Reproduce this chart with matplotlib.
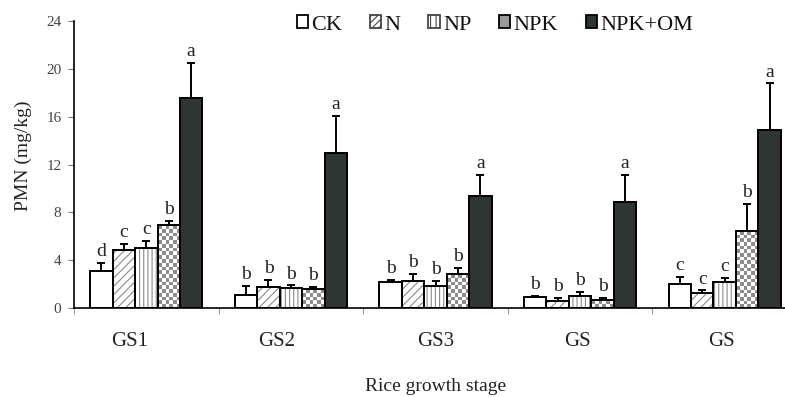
import numpy as np
import matplotlib
matplotlib.use("Agg")
import matplotlib.pyplot as plt
from matplotlib.patches import Rectangle
from matplotlib.colors import ListedColormap
from matplotlib.transforms import ScaledTranslation

plt.rcParams["font.family"] = "serif"
plt.rcParams["font.serif"] = ["Liberation Serif", "DejaVu Serif"]
plt.rcParams["hatch.linewidth"] = 0.8

# Rice growth stages and fertilizer treatments
stages = ["GS1", "GS2", "GS3", "GS", "GS"]
treatments = ["CK", "N", "NP", "NPK", "NPK+OM"]

# Potentially mineralizable N (mg/kg), mean and upper error
ck = [3.08, 1.12, 2.15, 0.90, 1.99]
ck_err = [0.72, 0.73, 0.17, 0.13, 0.61]
n = [4.81, 1.79, 2.26, 0.61, 1.26]
n_err = [0.53, 0.56, 0.59, 0.23, 0.22]
np_ = [5.01, 1.68, 1.85, 1.03, 2.21]
np_err = [0.58, 0.22, 0.44, 0.31, 0.28]
npk = [6.90, 1.57, 2.82, 0.64, 6.43]
npk_err = [0.37, 0.17, 0.51, 0.20, 2.27]
npk_om = [17.59, 12.98, 9.40, 8.87, 14.87]
npk_om_err = [2.88, 3.10, 1.70, 2.23, 3.92]

# Significance letters per treatment
ck_sig = ["d", "b", "b", "b", "c"]
n_sig = ["c", "b", "b", "b", "c"]
np_sig = ["c", "b", "b", "b", "c"]
npk_sig = ["b", "b", "b", "b", "b"]
npk_om_sig = ["a", "a", "a", "a", "a"]

yticks = [0, 4, 8, 12, 16, 20, 24]

series = [
    (ck, ck_err, ck_sig, dict(face="white", hatch=None)),
    (n, n_err, n_sig, dict(face="white", hatch="////")),
    (np_, np_err, np_sig, dict(face="white", hatch="||||")),
    (npk, npk_err, npk_sig, dict(face="white", hatch=None, checker=True)),
    (npk_om, npk_om_err, npk_om_sig, dict(face="#2f3434", hatch=None)),
]

W, H = 785, 397
fig = plt.figure(figsize=(W / 100, H / 100), dpi=100)
ax = fig.add_axes([74 / W, 89 / H, 723 / W, 287 / H])
ax.set_xlim(0, len(stages))
ax.set_ylim(0, 24)

centers = np.arange(len(stages)) + 0.5
bw = 0.155
edge_lw = 1.4
checker_cmap = ListedColormap(["white", "#8c8c8c"])

for j, (vals, errs, sig, st) in enumerate(series):
    x = centers + (j - 2) * bw
    base = ax.bar(x, vals, bw, color=st["face"], edgecolor="#8a8a8a",
                  hatch=st["hatch"], linewidth=0, zorder=2)
    if st.get("checker"):
        for rect in base:
            x0, w, h = rect.get_x(), rect.get_width(), rect.get_height()
            p0 = ax.transData.transform((x0, 0))
            p1 = ax.transData.transform((x0 + w, h))
            nx = max(1, int(round((p1[0] - p0[0]) / 3.7)))
            ny = max(1, int(round((p1[1] - p0[1]) / 3.7)))
            grid = np.add.outer(np.arange(ny), np.arange(nx)) % 2
            im = ax.imshow(grid, cmap=checker_cmap, extent=(x0, x0 + w, 0, h),
                           origin="lower", aspect="auto",
                           interpolation="nearest", zorder=2.5)
            im.set_clip_path(rect)
    ax.bar(x, vals, bw, fill=False, edgecolor="black", linewidth=edge_lw,
           zorder=3)
    ax.errorbar(x, vals, yerr=[np.zeros(len(vals)), errs], fmt="none",
                ecolor="black", elinewidth=edge_lw, capsize=3,
                capthick=edge_lw, zorder=3)
    for xi, v, e, s in zip(x, vals, errs, sig):
        ax.annotate(s, (xi, v + e), xytext=(0, 2), textcoords="offset points",
                    ha="center", va="bottom", fontsize=14, color="#222222")

ax.set_xlim(0, len(stages))
ax.set_ylim(0, 24)

# axes styling
for side in ("top", "right"):
    ax.spines[side].set_visible(False)
for side in ("left", "bottom"):
    ax.spines[side].set_linewidth(1.2)
    ax.spines[side].set_color("black")

ax.set_yticks(yticks)
ax.set_yticklabels([str(t) for t in yticks])
ax.tick_params(axis="y", direction="out", length=4, width=0.8,
               color="#777777", labelsize=11, labelcolor="#444444", pad=5)

ax.set_xticks(centers)
ax.set_xticklabels(stages)
ax.set_xticks(np.arange(len(stages) + 1), minor=True)
ax.tick_params(axis="x", which="major", length=0, pad=17, labelsize=15,
               labelcolor="#222222")
ax.tick_params(axis="x", which="minor", direction="out", length=4,
               width=0.8, color="#999999")
label_shift = [-17, -14, 0, -3, -3]
for lab, dx in zip(ax.get_xticklabels(), label_shift):
    lab.set_transform(lab.get_transform()
                      + ScaledTranslation(dx / 100, 0, fig.dpi_scale_trans))

ax.set_xlabel("Rice growth stage", fontsize=14, color="#222222", labelpad=20)
ax.set_ylabel("PMN (mg/kg)", fontsize=14, color="#222222")
ax.yaxis.set_label_coords(-0.058, 0.53)

# legend
handles = [
    Rectangle((0, 0), 1, 1, facecolor="white", edgecolor="black", linewidth=1.3),
    Rectangle((0, 0), 1, 1, facecolor="white", edgecolor="#444444",
              hatch="/////", linewidth=1.3),
    Rectangle((0, 0), 1, 1, facecolor="white", edgecolor="#444444",
              hatch="|||", linewidth=1.3),
    Rectangle((0, 0), 1, 1, facecolor="#9a9a9a", edgecolor="black",
              linewidth=1.3),
    Rectangle((0, 0), 1, 1, facecolor="#2f3434", edgecolor="black",
              linewidth=1.3),
]
fig.legend(handles, treatments, loc="center left",
           bbox_to_anchor=(297 / W, (H - 25) / H), ncol=5, frameon=False,
           fontsize=16, handlelength=0.5, handleheight=0.5,
           handletextpad=0.15, columnspacing=1.25, borderpad=0,
           borderaxespad=0, labelcolor="#111111")

fig.savefig("out.png", dpi=100)
